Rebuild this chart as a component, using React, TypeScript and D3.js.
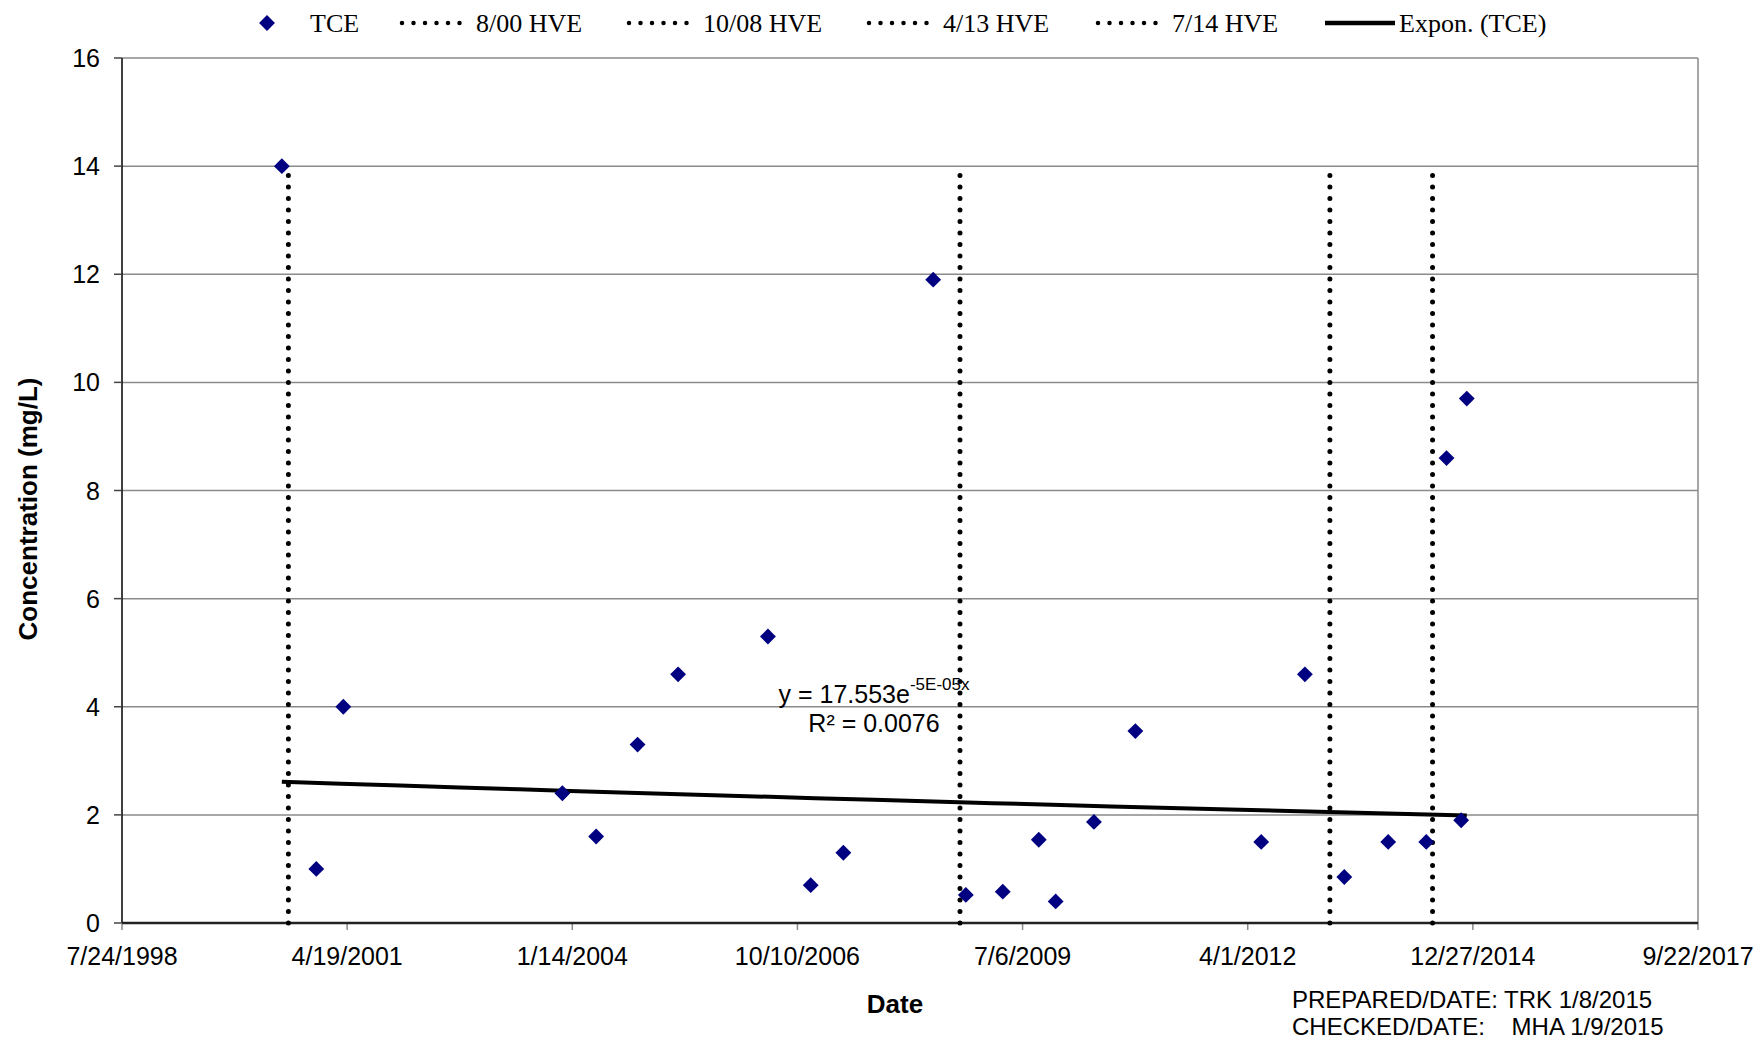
import React from 'react'
import * as d3 from 'd3'

// TCE samples (date, mg/L)
const sampleDates = [
  '2000-07-03', '2000-12-03', '2001-04-02', '2003-12-01', '2004-04-29',
  '2004-10-30', '2005-04-28', '2006-06-01', '2006-12-08', '2007-05-02',
  '2008-06-04', '2008-10-27', '2009-04-09', '2009-09-16', '2009-11-30',
  '2010-05-19', '2010-11-19', '2012-05-31', '2012-12-11', '2013-06-04',
  '2013-12-16', '2014-06-03', '2014-09-01', '2014-11-05', '2014-11-30',
]
const tceValues = [
  14.0, 1.0, 4.0, 2.4, 1.6,
  3.3, 4.6, 5.3, 0.7, 1.3,
  11.9, 0.52, 0.58, 1.54, 0.4,
  1.87, 3.55, 1.5, 4.6, 0.85,
  1.5, 1.5, 8.6, 1.9, 9.7,
]

const hveDates = ['2000-08-01', '2008-10-01', '2013-04-01', '2014-07-01']
const hveLabels = ['8/00 HVE', '10/08 HVE', '4/13 HVE', '7/14 HVE']
const hveTop = 14

const xTickDates = [
  '1998-07-24', '2001-04-19', '2004-01-14', '2006-10-10',
  '2009-07-06', '2012-04-01', '2014-12-27', '2017-09-22',
]
const yTicks = [0, 2, 4, 6, 8, 10, 12, 14, 16]

// exponential trend, x = excel serial day
const trendA = 17.553
const trendK = 5.19e-5

const parse = d3.utcParse('%Y-%m-%d')
const fmt = d3.utcFormat('%-m/%-d/%Y')
const excelSerial = (d: Date) => (d.getTime() - Date.UTC(1899, 11, 30)) / 86400000

const App = () => {
  const width = 1761
  const height = 1040
  const margin = { top: 58, right: 63, bottom: 117, left: 122 }
  const innerWidth = width - margin.left - margin.right
  const innerHeight = height - margin.top - margin.bottom

  const sans = "'Liberation Sans', Arial, sans-serif"
  const serif = "'Liberation Serif', 'Times New Roman', serif"

  const xScale = d3.scaleUtc()
    .domain([parse(xTickDates[0])!, parse(xTickDates[xTickDates.length - 1])!])
    .range([0, innerWidth])
  const yScale = d3.scaleLinear().domain([0, 16]).range([innerHeight, 0])

  const points = sampleDates.map((d, i) => ({ date: parse(d)!, value: tceValues[i] }))

  const first = points[0].date.getTime()
  const last = points[points.length - 1].date.getTime()
  const trendPts = d3.range(0, 21).map(i => {
    const t = new Date(first + (last - first) * i / 20)
    return { date: t, value: trendA * Math.exp(-trendK * excelSerial(t)) }
  })
  const trendLine = d3.line<{ date: Date, value: number }>()
    .x(d => xScale(d.date))
    .y(d => yScale(d.value))(trendPts)

  const diamond = d3.symbol().type(d3.symbolDiamond2).size(160)()

  const dotted = { stroke: 'black', strokeWidth: 5, strokeLinecap: 'round' as const, strokeDasharray: '0 11.5' }

  // legend layout
  const legendY = 23
  const hveLegendX = [399, 626, 866, 1095]

  return (
    <svg width={width} height={height} style={{ position: 'absolute', left: 0, top: 0, background: 'white' }}>
      {/* legend */}
      <g fontFamily={serif} fontSize={26}>
        <path d={diamond!} transform={`translate(267,${legendY})`} fill='#000080' />
        <text x={310} y={legendY + 9}>TCE</text>
        {hveLabels.map((lab, i) => (
          <g key={lab}>
            <line x1={hveLegendX[i] + 3} x2={hveLegendX[i] + 64} y1={legendY} y2={legendY} {...dotted} strokeWidth={4.5} />
            <text x={hveLegendX[i] + 77} y={legendY + 9}>{lab}</text>
          </g>
        ))}
        <line x1={1325} x2={1395} y1={legendY} y2={legendY} stroke='black' strokeWidth={4.5} />
        <text x={1399} y={legendY + 9}>Expon. (TCE)</text>
      </g>

      <g transform={`translate(${margin.left},${margin.top})`}>
        {/* gridlines */}
        {yTicks.filter(t => t > 0).map(t => (
          <line key={t} x1={0} x2={innerWidth} y1={yScale(t)} y2={yScale(t)} stroke='#8a8a8a' strokeWidth={1.5} />
        ))}
        <line x1={innerWidth} x2={innerWidth} y1={0} y2={innerHeight} stroke='#8a8a8a' strokeWidth={1.5} />

        {/* y axis */}
        <line x1={0} x2={0} y1={0} y2={innerHeight} stroke='black' strokeWidth={1.5} />
        {yTicks.map(t => (
          <g key={t} transform={`translate(0,${yScale(t)})`}>
            <line x1={-8} x2={0} stroke='#444' strokeWidth={1.5} />
            <text x={-22} y={9} textAnchor='end' fontFamily={sans} fontSize={25}>{t}</text>
          </g>
        ))}

        {/* x axis */}
        {xTickDates.map(s => {
          const d = parse(s)!
          return (
            <g key={s} transform={`translate(${xScale(d)},${innerHeight})`}>
              <line y1={0} y2={7} stroke='#8a8a8a' strokeWidth={1.5} />
              <text y={42} textAnchor='middle' fontFamily={sans} fontSize={25}>{fmt(d)}</text>
            </g>
          )
        })}
        <line x1={0} x2={innerWidth} y1={innerHeight} y2={innerHeight} stroke='#222' strokeWidth={2.5} />

        {/* HVE events */}
        {hveDates.map(s => (
          <line key={s} x1={xScale(parse(s)!)} x2={xScale(parse(s)!)} y1={innerHeight} y2={yScale(hveTop) + 5} {...dotted} />
        ))}

        {/* trend */}
        <path d={trendLine!} fill='none' stroke='black' strokeWidth={4} />

        {/* samples */}
        {points.map((p, i) => (
          <path key={i} d={diamond!} transform={`translate(${xScale(p.date)},${yScale(p.value)})`} fill='#000080' />
        ))}

        {/* trend equation */}
        <g fontFamily={sans} fontSize={25} textAnchor='middle'>
          <text x={752} y={645}>
            y = 17.553e<tspan fontSize={17} dy={-13}>-5E-05x</tspan>
          </text>
          <text x={752} y={674}>R² = 0.0076</text>
        </g>
      </g>

      {/* axis titles */}
      <text x={895} y={1013} textAnchor='middle' fontFamily={sans} fontSize={26} fontWeight='bold'>Date</text>
      <text transform='translate(37,509) rotate(-90)' textAnchor='middle' fontFamily={sans} fontSize={26} fontWeight='bold'>Concentration (mg/L)</text>

      {/* footer */}
      <g fontFamily={sans} fontSize={24}>
        <text x={1292} y={1008}>PREPARED/DATE: TRK 1/8/2015</text>
        <text x={1292} y={1035} xmlSpace='preserve' style={{ whiteSpace: 'pre' }}>{'CHECKED/DATE:    MHA 1/9/2015'}</text>
      </g>
    </svg>
  )
}

export default App
